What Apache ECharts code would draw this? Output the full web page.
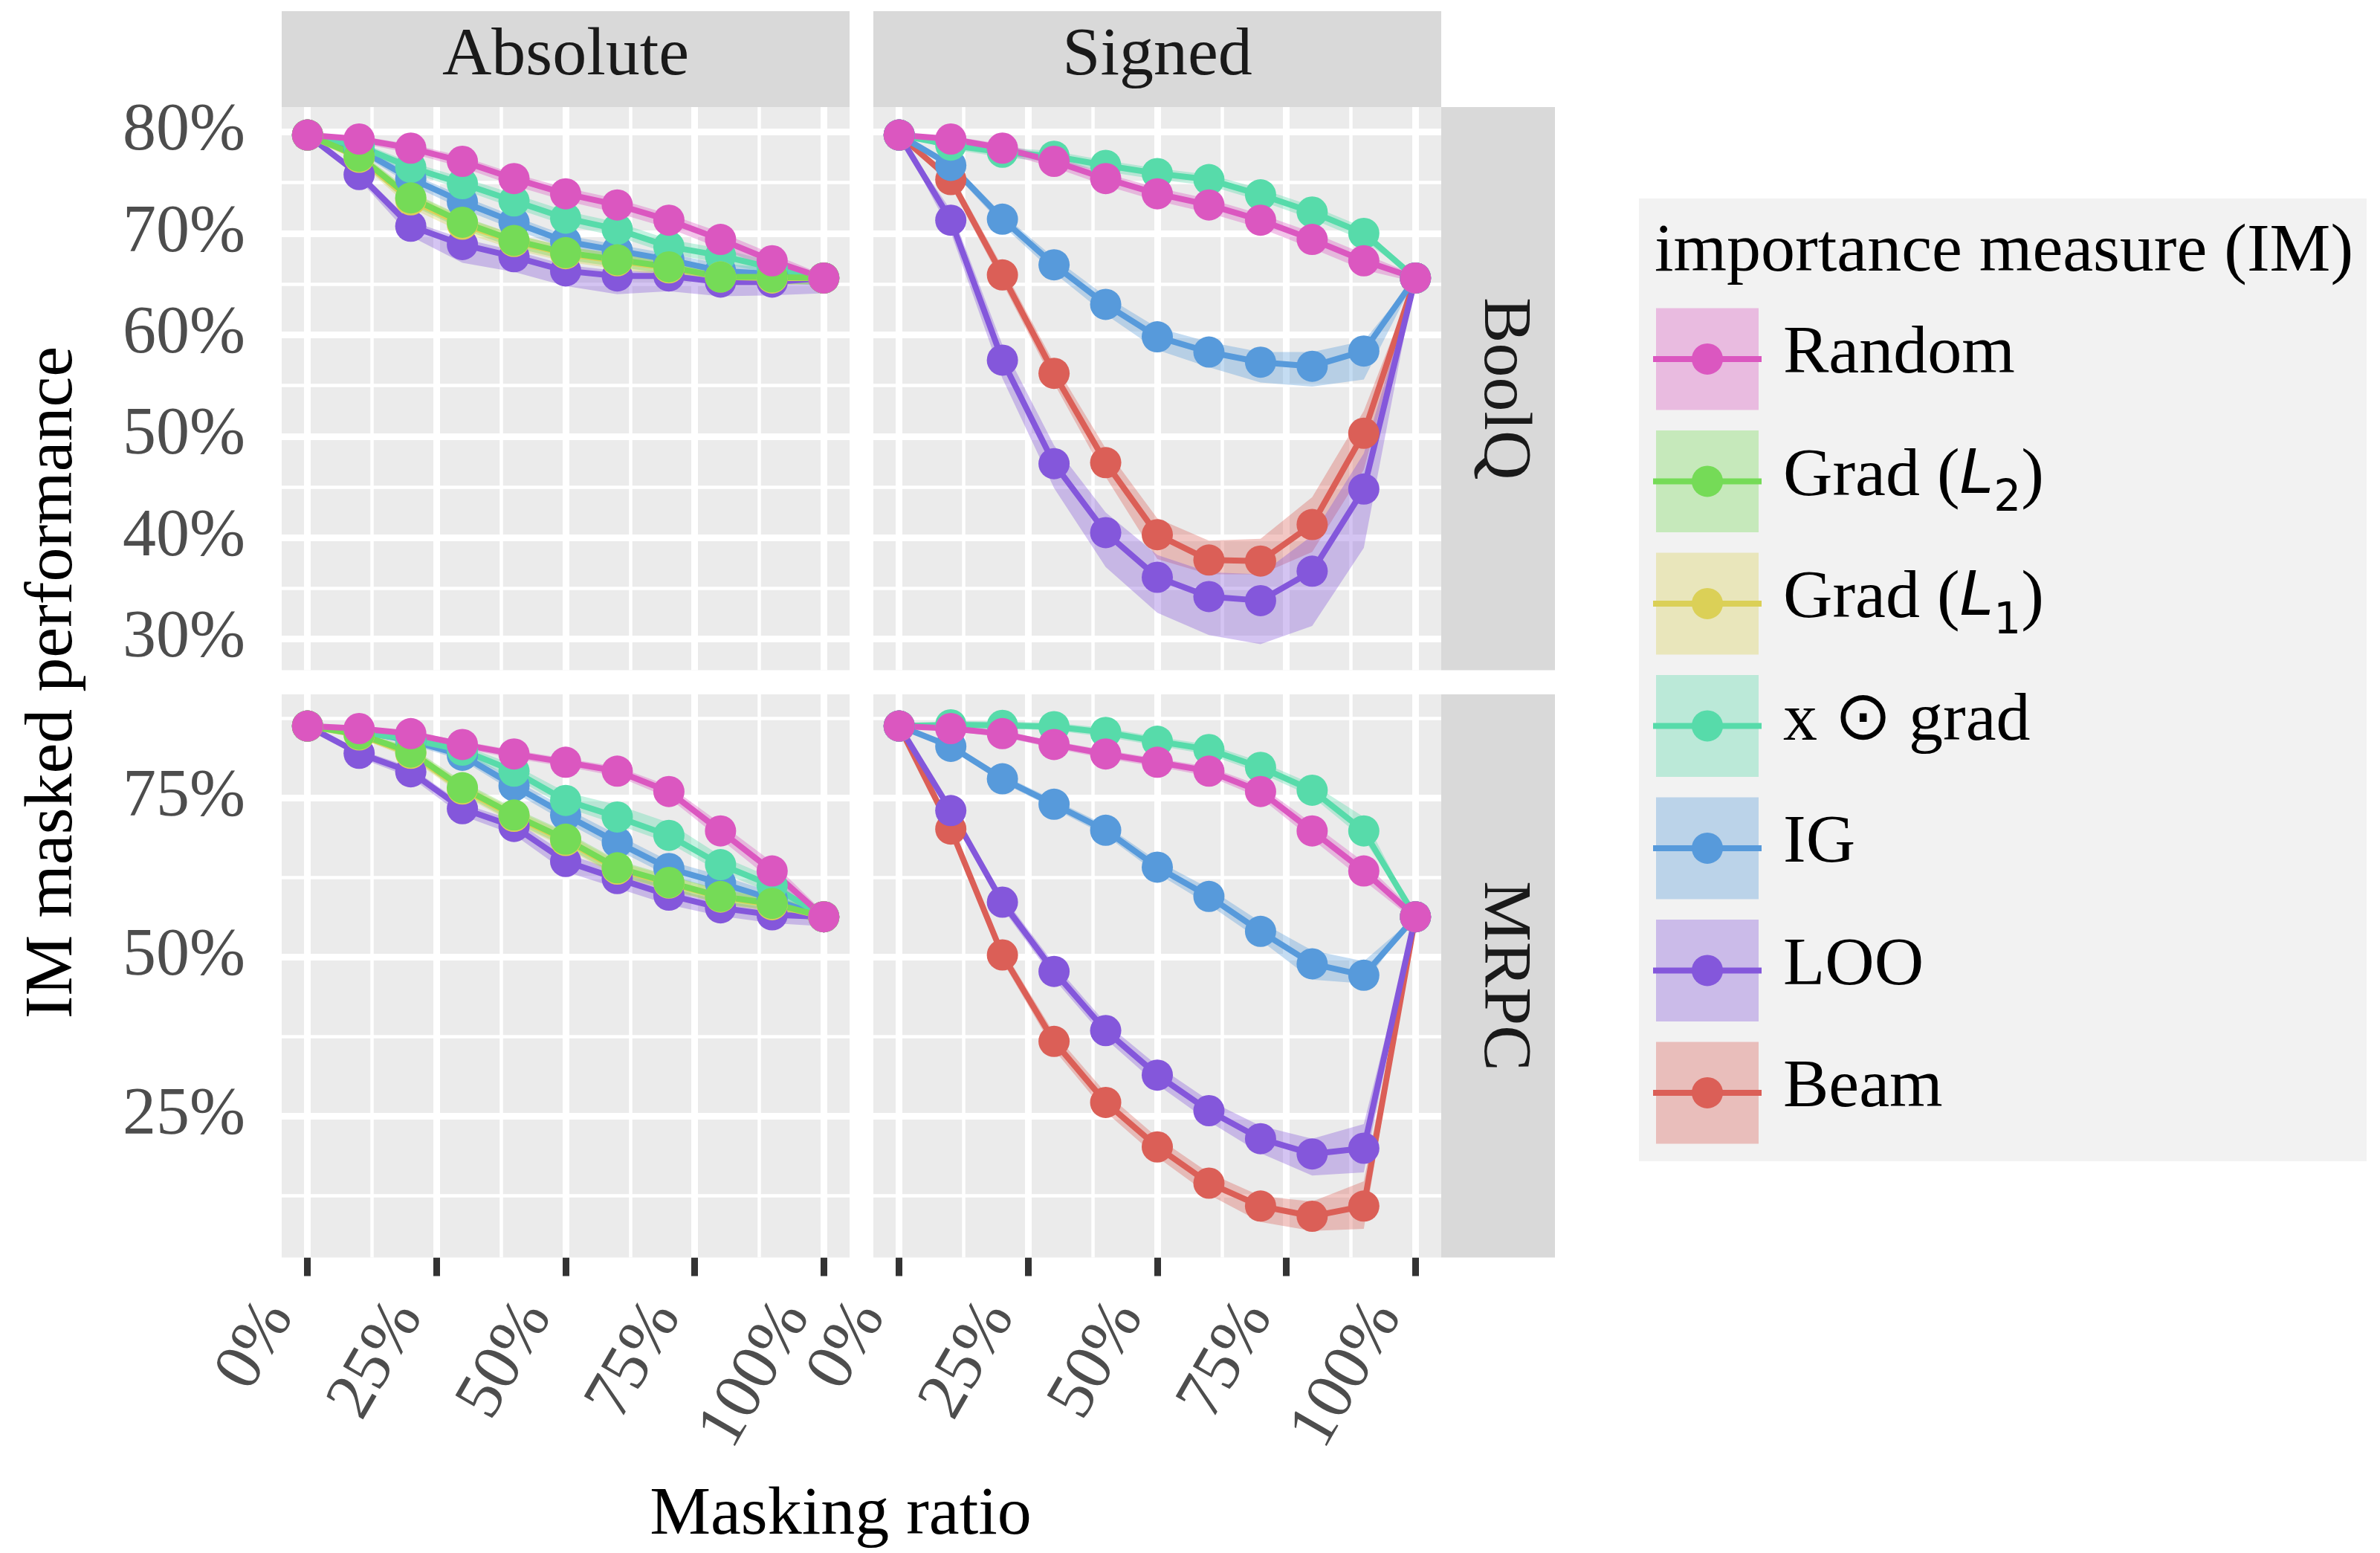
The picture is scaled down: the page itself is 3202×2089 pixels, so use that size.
<!DOCTYPE html>
<html>
<head>
<meta charset="utf-8">
<script src="https://cdn.jsdelivr.net/npm/echarts@6/dist/echarts.min.js"></script>
<style>
  html, body { margin: 0; padding: 0; background: #ffffff; }
  #chart { width: 3202px; height: 2089px; }
</style>
</head>
<body>
<div id="chart"></div>
<script>
// ---- categories / ticks ----
const maskingRatio = [0, 10, 20, 30, 40, 50, 60, 70, 80, 90, 100];
const measureNames = ['Random', 'Grad (L2)', 'Grad (L1)', 'x \u2299 grad', 'IG', 'LOO', 'Beam'];
const measureColors = ['#DB57C0', '#75DB57', '#DBD057', '#57DBAA', '#579ADB', '#8457DB', '#DB5F57'];
const facetCols = ['Absolute', 'Signed'];
const facetRows = ['BoolQ', 'MRPC'];
const xTicks = [0, 25, 50, 75, 100];
const xMinor = [12.5, 37.5, 62.5, 87.5];
const boolqTicks = [30, 40, 50, 60, 70, 80];
const boolqMinor = [35, 45, 55, 65, 75];
const mrpcTicks = [25, 50, 75];
const mrpcMinor = [12.5, 37.5, 62.5, 87.5];
const boolqRange = [26.94, 82.45];
const mrpcRange = [2.71, 91.28];

// ---- BoolQ (mean performance and ribbon bounds, %) ----
const boolqRandomMean = [79.7, 79.3, 78.4, 77.1, 75.4, 73.9, 72.8, 71.3, 69.4, 67.3, 65.6];
const boolqRandomLo   = [79.7, 78.9, 77.9, 76.5, 74.7, 73.2, 72.0, 70.5, 68.5, 66.4, 65.2];
const boolqRandomHi   = [79.7, 79.6, 78.8, 77.6, 75.9, 74.5, 73.4, 71.9, 70.1, 68.0, 65.9];

const boolqAbsGradL2Mean = [79.7, 77.6, 73.5, 71.1, 69.3, 68.1, 67.4, 66.7, 65.7, 65.7, 65.6];
const boolqAbsGradL2Lo   = [79.7, 77.1, 72.8, 70.4, 68.6, 67.4, 66.7, 66.0, 65.0, 65.0, 65.0];
const boolqAbsGradL2Hi   = [79.7, 78.1, 74.1, 71.7, 69.9, 68.7, 68.0, 67.3, 66.3, 66.3, 66.0];
const boolqAbsGradL1Mean = [79.7, 77.5, 73.3, 70.9, 69.2, 68.0, 67.3, 66.6, 65.7, 65.6, 65.6];
const boolqAbsGradL1Lo   = [79.7, 77.0, 72.5, 70.1, 68.4, 67.2, 66.5, 65.8, 64.9, 64.9, 65.0];
const boolqAbsGradL1Hi   = [79.7, 78.0, 74.0, 71.6, 69.9, 68.7, 68.0, 67.3, 66.4, 66.3, 66.0];
const boolqAbsXGradMean  = [79.7, 78.6, 76.5, 74.9, 73.2, 71.5, 70.4, 68.7, 67.8, 66.6, 65.6];
const boolqAbsXGradLo    = [79.7, 78.2, 76.0, 74.3, 72.5, 70.8, 69.7, 68.0, 67.1, 66.0, 65.1];
const boolqAbsXGradHi    = [79.7, 79.0, 77.0, 75.5, 73.9, 72.2, 71.1, 69.4, 68.5, 67.2, 66.0];
const boolqAbsIGMean     = [79.7, 78.3, 75.4, 73.1, 71.1, 69.2, 68.3, 67.4, 66.3, 66.0, 65.6];
const boolqAbsIGLo       = [79.7, 77.9, 74.8, 72.4, 70.4, 68.5, 67.6, 66.7, 65.5, 65.2, 64.8];
const boolqAbsIGHi       = [79.7, 78.7, 75.9, 73.7, 71.7, 69.8, 68.9, 68.0, 67.0, 66.6, 66.1];
const boolqAbsLOOMean    = [79.7, 75.8, 70.7, 68.9, 67.7, 66.3, 65.8, 65.8, 65.2, 65.2, 65.6];
const boolqAbsLOOLo      = [79.7, 75.3, 69.7, 67.1, 66.2, 64.8, 64.0, 64.3, 63.8, 63.9, 64.1];
const boolqAbsLOOHi      = [79.7, 76.2, 71.2, 69.5, 68.3, 66.9, 66.3, 66.3, 65.7, 65.7, 66.0];

const boolqSgnXGradMean = [79.7, 78.7, 78.0, 77.6, 76.7, 75.9, 75.3, 73.8, 72.1, 70.0, 65.6];
const boolqSgnXGradLo   = [79.7, 78.3, 77.5, 77.0, 76.1, 75.3, 74.7, 73.2, 71.4, 69.3, 65.6];
const boolqSgnXGradHi   = [79.7, 79.1, 78.5, 78.1, 77.2, 76.4, 75.8, 74.4, 72.7, 70.6, 65.6];
const boolqSgnIGMean    = [79.7, 76.7, 71.4, 66.9, 63.0, 59.8, 58.3, 57.3, 56.9, 58.4, 65.6];
const boolqSgnIGLo      = [79.7, 76.3, 70.8, 66.1, 62.0, 58.5, 56.8, 55.3, 54.9, 55.6, 65.6];
const boolqSgnIGHi      = [79.7, 77.1, 71.9, 67.6, 63.8, 60.7, 59.3, 58.3, 58.3, 59.4, 65.6];
const boolqSgnLOOMean   = [79.7, 71.3, 57.5, 47.3, 40.5, 36.1, 34.2, 33.8, 36.7, 44.8, 65.6];
const boolqSgnLOOLo     = [79.7, 70.1, 55.7, 44.9, 37.1, 32.6, 30.4, 29.5, 31.3, 39.0, 65.6];
const boolqSgnLOOHi     = [79.7, 72.3, 59.0, 49.1, 42.5, 38.3, 36.6, 36.4, 40.2, 48.3, 65.6];
const boolqSgnBeamMean  = [79.7, 75.3, 65.9, 56.2, 47.4, 40.3, 37.8, 37.7, 41.3, 50.3, 65.6];
const boolqSgnBeamLo    = [79.7, 74.7, 65.1, 55.2, 46.0, 37.9, 36.4, 36.4, 38.6, 46.7, 65.6];
const boolqSgnBeamHi    = [79.7, 75.9, 66.7, 57.2, 48.8, 41.9, 39.7, 39.9, 44.0, 52.5, 65.6];

// ---- MRPC ----
const mrpcRandomMean = [86.3, 85.9, 85.1, 83.4, 81.9, 80.6, 79.2, 76.0, 69.8, 63.5, 56.3];
const mrpcRandomLo   = [86.3, 85.5, 84.6, 82.8, 81.2, 79.9, 78.4, 75.0, 68.5, 62.0, 55.6];
const mrpcRandomHi   = [86.3, 86.3, 85.5, 83.9, 82.5, 81.2, 79.9, 76.9, 71.0, 64.9, 57.0];

const mrpcAbsGradL2Mean = [86.3, 85.0, 82.2, 76.6, 72.3, 68.5, 64.0, 61.7, 59.5, 58.4, 56.3];
const mrpcAbsGradL2Lo   = [86.3, 84.5, 81.4, 75.6, 71.2, 67.3, 62.8, 60.6, 58.4, 57.3, 55.2];
const mrpcAbsGradL2Hi   = [86.3, 85.5, 83.0, 77.6, 73.4, 69.7, 65.2, 62.8, 60.6, 59.5, 57.3];
const mrpcAbsGradL1Mean = [86.3, 84.9, 82.0, 76.4, 72.1, 68.3, 63.8, 61.6, 59.4, 58.2, 56.3];
const mrpcAbsGradL1Lo   = [86.3, 84.4, 81.2, 75.4, 71.0, 67.1, 62.6, 60.5, 58.3, 57.1, 55.2];
const mrpcAbsGradL1Hi   = [86.3, 85.4, 82.8, 77.4, 73.2, 69.5, 65.0, 62.7, 60.5, 59.3, 57.3];
const mrpcAbsXGradMean  = [86.3, 85.3, 84.2, 82.5, 79.2, 74.6, 72.0, 69.1, 64.5, 61.2, 56.3];
const mrpcAbsXGradLo    = [86.3, 84.9, 83.6, 81.7, 78.2, 73.5, 70.8, 67.9, 63.3, 60.0, 55.0];
const mrpcAbsXGradHi    = [86.3, 85.7, 84.8, 83.3, 80.2, 75.9, 73.9, 71.1, 65.9, 62.4, 57.4];
const mrpcAbsIGMean     = [86.3, 85.5, 84.0, 81.7, 76.9, 72.3, 68.0, 63.9, 61.6, 59.1, 56.3];
const mrpcAbsIGLo       = [86.3, 85.1, 83.4, 80.9, 75.9, 71.2, 66.8, 62.7, 60.4, 58.0, 55.0];
const mrpcAbsIGHi       = [86.3, 85.9, 84.6, 82.5, 77.9, 73.4, 69.2, 65.1, 62.8, 60.2, 57.4];
const mrpcAbsLOOMean    = [86.3, 82.0, 79.1, 73.3, 70.5, 65.0, 62.3, 59.7, 57.7, 56.6, 56.3];
const mrpcAbsLOOLo      = [86.3, 81.3, 78.2, 72.2, 69.2, 63.4, 60.8, 58.2, 56.4, 55.3, 54.8];
const mrpcAbsLOOHi      = [86.3, 82.6, 79.8, 74.1, 71.5, 66.2, 63.6, 60.9, 58.8, 57.6, 57.2];

const mrpcSgnXGradMean = [86.3, 86.5, 86.4, 86.2, 85.3, 83.9, 82.6, 79.8, 76.2, 69.8, 56.3];
const mrpcSgnXGradLo   = [86.3, 86.0, 85.9, 85.6, 84.6, 83.2, 81.8, 78.9, 75.2, 68.5, 56.3];
const mrpcSgnXGradHi   = [86.3, 87.1, 87.0, 86.8, 86.0, 84.6, 83.4, 80.7, 77.2, 72.0, 56.3];
const mrpcSgnIGMean    = [86.3, 83.1, 78.0, 74.0, 69.9, 64.1, 59.5, 54.0, 48.9, 47.1, 56.3];
const mrpcSgnIGLo      = [86.3, 82.6, 77.4, 73.3, 69.1, 63.1, 58.2, 52.6, 46.4, 45.8, 56.3];
const mrpcSgnIGHi      = [86.3, 83.6, 78.6, 74.7, 70.7, 65.1, 60.8, 55.5, 51.0, 49.3, 56.3];
const mrpcSgnLOOMean   = [86.3, 73.0, 58.6, 47.7, 38.4, 31.4, 25.8, 21.4, 19.0, 19.9, 56.3];
const mrpcSgnLOOLo     = [86.3, 72.3, 57.6, 46.5, 37.1, 29.9, 24.1, 19.1, 15.6, 16.1, 56.3];
const mrpcSgnLOOHi     = [86.3, 73.7, 59.6, 48.9, 39.6, 32.9, 27.4, 23.4, 21.4, 23.7, 56.3];
const mrpcSgnBeamMean  = [86.3, 70.1, 50.3, 36.7, 27.1, 20.1, 14.4, 10.8, 9.2, 10.8, 56.3];
const mrpcSgnBeamLo    = [86.3, 69.4, 49.3, 35.4, 25.6, 18.5, 12.6, 8.3, 6.9, 7.2, 56.3];
const mrpcSgnBeamHi    = [86.3, 70.8, 51.3, 38.0, 28.6, 21.6, 16.0, 12.4, 11.5, 14.7, 56.3];

// ---- facet layout ----
const FONT = 'Liberation Serif';
const GRID_X = [379, 1175];
const GRID_Y = [144, 934];
const GRID_W = 764;
const GRID_H = 757.5;
const STRIP_TOP = 15;
const STRIP_RIGHT_W = 153;
const BAND_OPACITY = 0.35;

function curve(m, mean, lo, hi) { return { m, mean, lo, hi }; }

const panels = [
  { row: 0, col: 0, range: boolqRange, ticks: boolqTicks, minor: boolqMinor, curves: [
    curve(0, boolqRandomMean, boolqRandomLo, boolqRandomHi),
    curve(1, boolqAbsGradL2Mean, boolqAbsGradL2Lo, boolqAbsGradL2Hi),
    curve(2, boolqAbsGradL1Mean, boolqAbsGradL1Lo, boolqAbsGradL1Hi),
    curve(3, boolqAbsXGradMean, boolqAbsXGradLo, boolqAbsXGradHi),
    curve(4, boolqAbsIGMean, boolqAbsIGLo, boolqAbsIGHi),
    curve(5, boolqAbsLOOMean, boolqAbsLOOLo, boolqAbsLOOHi) ] },
  { row: 0, col: 1, range: boolqRange, ticks: boolqTicks, minor: boolqMinor, curves: [
    curve(0, boolqRandomMean, boolqRandomLo, boolqRandomHi),
    curve(3, boolqSgnXGradMean, boolqSgnXGradLo, boolqSgnXGradHi),
    curve(4, boolqSgnIGMean, boolqSgnIGLo, boolqSgnIGHi),
    curve(5, boolqSgnLOOMean, boolqSgnLOOLo, boolqSgnLOOHi),
    curve(6, boolqSgnBeamMean, boolqSgnBeamLo, boolqSgnBeamHi) ] },
  { row: 1, col: 0, range: mrpcRange, ticks: mrpcTicks, minor: mrpcMinor, curves: [
    curve(0, mrpcRandomMean, mrpcRandomLo, mrpcRandomHi),
    curve(1, mrpcAbsGradL2Mean, mrpcAbsGradL2Lo, mrpcAbsGradL2Hi),
    curve(2, mrpcAbsGradL1Mean, mrpcAbsGradL1Lo, mrpcAbsGradL1Hi),
    curve(3, mrpcAbsXGradMean, mrpcAbsXGradLo, mrpcAbsXGradHi),
    curve(4, mrpcAbsIGMean, mrpcAbsIGLo, mrpcAbsIGHi),
    curve(5, mrpcAbsLOOMean, mrpcAbsLOOLo, mrpcAbsLOOHi) ] },
  { row: 1, col: 1, range: mrpcRange, ticks: mrpcTicks, minor: mrpcMinor, curves: [
    curve(0, mrpcRandomMean, mrpcRandomLo, mrpcRandomHi),
    curve(3, mrpcSgnXGradMean, mrpcSgnXGradLo, mrpcSgnXGradHi),
    curve(4, mrpcSgnIGMean, mrpcSgnIGLo, mrpcSgnIGHi),
    curve(5, mrpcSgnLOOMean, mrpcSgnLOOLo, mrpcSgnLOOHi),
    curve(6, mrpcSgnBeamMean, mrpcSgnBeamLo, mrpcSgnBeamHi) ] }
];

const grids = [], xAxes = [], yAxes = [], series = [];

panels.forEach((p, gi) => {
  grids.push({
    left: GRID_X[p.col], top: GRID_Y[p.row], width: GRID_W, height: GRID_H,
    show: true, backgroundColor: '#EBEBEB', borderWidth: 0, containLabel: false,
    outerBoundsMode: 'none'
  });
  const bottomRow = p.row === 1;
  const leftCol = p.col === 0;
  xAxes.push({
    gridIndex: gi, type: 'value', min: -5, max: 105,
    axisLine: { show: false },
    splitLine: { show: false },
    axisTick: { show: bottomRow, customValues: xTicks, length: 25,
      lineStyle: { color: '#333333', width: 9 } },
    axisLabel: { show: bottomRow, customValues: xTicks, formatter: v => v + '%',
      rotate: 60, align: 'right', verticalAlign: 'bottom', lineHeight: 90, margin: 89,
      fontFamily: FONT, fontSize: 90, color: '#4D4D4D', hideOverlap: false }
  });
  yAxes.push({
    gridIndex: gi, type: 'value', min: p.range[0], max: p.range[1],
    axisLine: { show: false },
    splitLine: { show: false },
    axisTick: { show: leftCol, customValues: p.ticks, length: 25,
      lineStyle: { color: '#333333', width: 9 } },
    axisLabel: { show: leftCol, customValues: p.ticks, formatter: v => v + '%',
      margin: 49, fontFamily: FONT, fontSize: 90, color: '#4D4D4D', hideOverlap: false }
  });

  // white panel gridlines, drawn through the panel's own scales
  const major = { color: '#FFFFFF', width: 9, type: 'solid', opacity: 1 };
  const minor = { color: '#FFFFFF', width: 4.5, type: 'solid', opacity: 1 };
  const gridLines = []
    .concat(p.minor.map(v => ({ yAxis: v, lineStyle: minor })))
    .concat(xMinor.map(v => ({ xAxis: v, lineStyle: minor })))
    .concat(p.ticks.map(v => ({ yAxis: v, lineStyle: major })))
    .concat(xTicks.map(v => ({ xAxis: v, lineStyle: major })));
  series.push({
    type: 'line', xAxisIndex: gi, yAxisIndex: gi, silent: true, z: 1,
    data: [[0, p.range[0]]], symbol: 'none', lineStyle: { opacity: 0 },
    markLine: { silent: true, z: 1, symbol: ['none', 'none'], label: { show: false },
      emphasis: { disabled: true }, animation: false, data: gridLines }
  });

  // later measures first so that Random ends up on top
  const order = p.curves.slice().sort((a, b) => b.m - a.m);

  // confidence ribbons as filled polygons between lower and upper bounds
  order.forEach(c => {
    const color = measureColors[c.m];
    series.push({
      type: 'custom', xAxisIndex: gi, yAxisIndex: gi, z: 2, silent: true, clip: true,
      data: maskingRatio.map((x, i) => [x, c.lo[i], c.hi[i]]),
      encode: { x: 0, y: [1, 2] },
      renderItem: (params, api) => {
        if (params.dataIndex !== 0) return null;
        const upper = maskingRatio.map((x, i) => api.coord([x, c.hi[i]]));
        const lower = maskingRatio.map((x, i) => api.coord([x, c.lo[i]])).reverse();
        return { type: 'polygon', shape: { points: upper.concat(lower) },
          style: { fill: color, opacity: BAND_OPACITY } };
      }
    });
  });

  order.forEach(c => {
    const color = measureColors[c.m];
    series.push({
      type: 'line', name: measureNames[c.m], xAxisIndex: gi, yAxisIndex: gi, z: 3,
      symbol: 'circle', symbolSize: 42, showSymbol: true, showAllSymbol: true,
      lineStyle: { color: color, width: 8 },
      itemStyle: { color: color, borderWidth: 0 },
      emphasis: { disabled: true },
      data: maskingRatio.map((x, i) => [x, c.mean[i]])
    });
  });
});

// ---- strips, axis titles and legend ----
const textBase = { fontFamily: FONT, fontSize: 92 };
const graphics = [];

facetCols.forEach((label, col) => {
  graphics.push({ type: 'rect', shape: { x: GRID_X[col], y: STRIP_TOP, width: GRID_W, height: GRID_Y[0] - STRIP_TOP },
    style: { fill: '#D9D9D9' }, silent: true });
  graphics.push({ type: 'text', x: GRID_X[col] + GRID_W / 2, y: 76,
    style: Object.assign({ text: label, fill: '#1A1A1A', align: 'center', verticalAlign: 'middle',
      textAlign: 'center', textVerticalAlign: 'middle' }, textBase), silent: true });
});
facetRows.forEach((label, row) => {
  const x0 = GRID_X[1] + GRID_W;
  graphics.push({ type: 'rect', shape: { x: x0, y: GRID_Y[row], width: STRIP_RIGHT_W, height: GRID_H },
    style: { fill: '#D9D9D9' }, silent: true });
  graphics.push({ type: 'text', x: x0 + 83, y: GRID_Y[row] + GRID_H / 2, rotation: -Math.PI / 2,
    style: Object.assign({ text: label, fill: '#1A1A1A', align: 'center', verticalAlign: 'middle',
      textAlign: 'center', textVerticalAlign: 'middle' }, textBase), silent: true });
});

graphics.push({ type: 'text', x: 72, y: 918, rotation: Math.PI / 2,
  style: Object.assign({ text: 'IM masked performance', fill: '#000000', align: 'center', verticalAlign: 'middle',
    textAlign: 'center', textVerticalAlign: 'middle' }, textBase), silent: true });
graphics.push({ type: 'text', x: 1131, y: 2039,
  style: Object.assign({ text: 'Masking ratio', fill: '#000000', align: 'center', verticalAlign: 'middle',
    textAlign: 'center', textVerticalAlign: 'middle' }, textBase), silent: true });

// legend
const LEG_X = 2205, LEG_Y = 267, LEG_W = 979, LEG_H = 1295;
const KEY_X = 2228, KEY_Y0 = 414.4, KEY_STEP = 164.5, KEY_W = 138, KEY_H = 137;
graphics.push({ type: 'rect', shape: { x: LEG_X, y: LEG_Y, width: LEG_W, height: LEG_H },
  style: { fill: '#F2F2F2' }, silent: true });
graphics.push({ type: 'text', x: 2226, y: 340,
  style: Object.assign({ text: 'importance measure (IM)', fill: '#000000', align: 'left', verticalAlign: 'middle',
    textAlign: 'left', textVerticalAlign: 'middle' }, textBase), silent: true });

const legendRich = {
  a: { fontFamily: FONT, fontSize: 92, lineHeight: 120, fill: '#000000', color: '#000000' },
  it: { fontFamily: 'DejaVu Sans', fontStyle: 'italic', fontSize: 82, lineHeight: 120, fill: '#000000', color: '#000000' },
  sub: { fontFamily: 'DejaVu Sans', fontSize: 58, lineHeight: 58, verticalAlign: 'bottom', fill: '#000000', color: '#000000' },
  sym: { fontFamily: 'DejaVu Sans', fontSize: 92, lineHeight: 120, fill: '#000000', color: '#000000' }
};
const legendLabels = [
  '{a|Random}',
  '{a|Grad (}{it|L}{sub|2}{a|)}',
  '{a|Grad (}{it|L}{sub|1}{a|)}',
  '{a|x }{sym|\u2299}{a| grad}',
  '{a|IG}',
  '{a|LOO}',
  '{a|Beam}'
];

measureNames.forEach((name, i) => {
  const y0 = KEY_Y0 + i * KEY_STEP;
  const cy = y0 + KEY_H / 2;
  const color = measureColors[i];
  graphics.push({ type: 'rect', shape: { x: KEY_X, y: y0, width: KEY_W, height: KEY_H },
    style: { fill: color, opacity: BAND_OPACITY }, silent: true });
  graphics.push({ type: 'line', shape: { x1: KEY_X - 4, y1: cy, x2: KEY_X + KEY_W + 4, y2: cy },
    style: { stroke: color, lineWidth: 8 }, silent: true });
  graphics.push({ type: 'circle', shape: { cx: KEY_X + KEY_W / 2, cy: cy, r: 21 },
    style: { fill: color }, silent: true });
  graphics.push({ type: 'text', x: 2399, y: cy - 6,
    style: { text: legendLabels[i], rich: legendRich, fill: '#000000', fontFamily: FONT, fontSize: 92,
      align: 'left', verticalAlign: 'middle', textAlign: 'left', textVerticalAlign: 'middle' }, silent: true });
});

const chart = echarts.init(document.getElementById('chart'), null, { renderer: 'canvas' });
chart.setOption({
  animation: false,
  backgroundColor: '#FFFFFF',
  grid: grids,
  xAxis: xAxes,
  yAxis: yAxes,
  series: series,
  graphic: { elements: graphics }
});
</script>
</body>
</html>
